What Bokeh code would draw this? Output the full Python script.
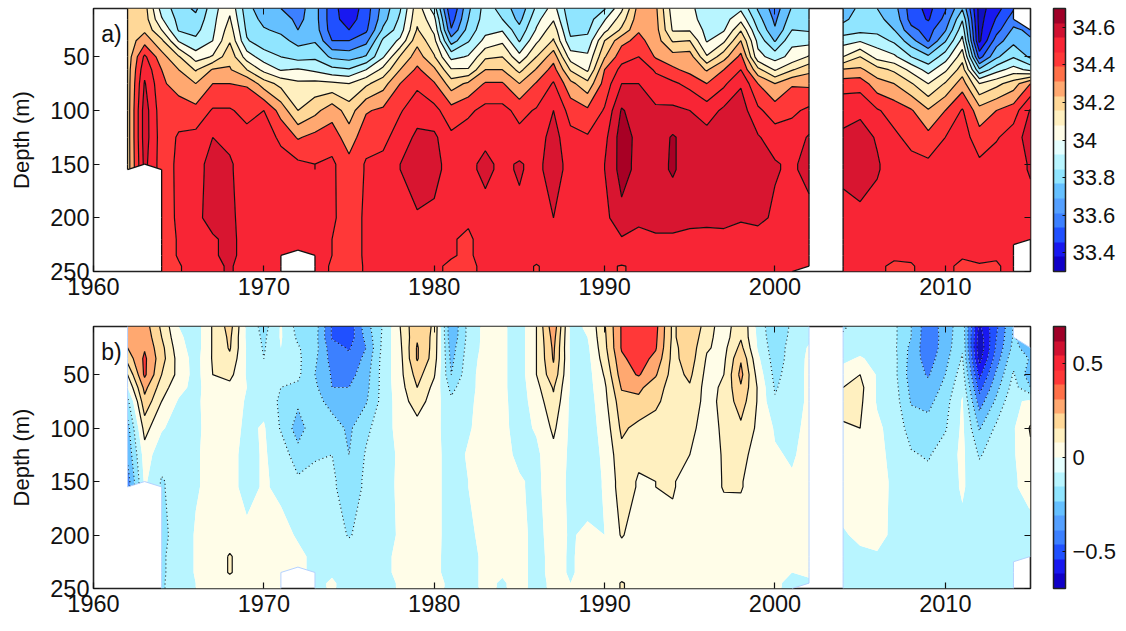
import numpy as np
from bokeh.embed import file_html
from bokeh.layouts import column
from bokeh.models import ColorBar, FixedTicker, Label, LinearAxis, LinearColorMapper, Range1d
from bokeh.plotting import figure
from bokeh.resources import INLINE

nan = float("nan")
years = list(range(1962, 2016))
read_depths = [5, 15, 25, 35, 50, 62, 75, 100, 125, 150, 200, 235, 250]
# salinity: hundredths above 33, one list per year, one value per read depth
sal_1960s = [
    [122,120,122,124,124,125,125,125,125,125,nan,nan,nan],
    [124,125,128,136,152,157,161,165,165,163,nan,nan,nan],
    [96,101,110,122,134,140,142,144,145,145,144,144,144],
    [85,87,89,99,121,130,135,146,151,152,152,151,149],
    [78,83,87,92,105,119,130,143,153,157,158,156,155],
    [96,97,98,100,111,131,140,151,160,163,163,159,158],
    [108,111,115,119,127,131,140,151,158,161,161,162,161],
    [84,86,88,91,105,120,139,147,153,156,158,157,156],
]
sal_1970s = [
    [73,77,81,84,95,107,125,150,155,156,158,157,156],
    [70,74,78,83,90,99,117,136,148,154,157,157,155],
    [67,68,70,77,86,101,112,120,139,152,156,156,nan],
    [74,74,75,79,88,98,113,127,143,150,155,154,154],
    [54,54,55,60,78,93,112,136,145,152,151,150,149],
    [43,45,50,60,76,91,110,125,135,143,147,147,146],
    [55,56,58,67,81,100,118,139,146,151,151,151,151],
    [74,76,82,92,99,113,126,142,147,153,155,155,155],
    [89,92,95,102,121,130,140,149,155,160,156,154,154],
    [116,118,121,127,135,142,148,156,162,165,159,157,156],
]
sal_1980s = [
    [95,103,108,113,121,132,141,153,162,163,158,156,152],
    [50,55,61,75,97,111,125,144,152,156,154,151,148],
    [78,80,84,89,101,111,132,148,155,158,152,148,145],
    [94,95,97,103,118,130,141,153,158,162,157,155,155],
    [87,90,99,108,120,130,141,153,157,158,156,155,154],
    [73,77,83,89,103,117,130,147,153,161,158,157,155],
    [92,97,101,108,120,131,141,151,155,157,157,155,149],
    [104,109,116,121,136,144,151,160,164,165,160,156,155],
    [82,84,87,92,105,119,133,146,153,156,156,155,155],
    [84,85,88,93,102,108,123,142,151,155,157,157,155],
]
sal_1990s = [
    [89,99,107,120,129,140,144,151,157,160,157,154,153],
    [108,115,122,137,146,153,160,171,175,174,167,159,149],
    [134,136,139,143,150,155,160,165,167,167,163,156,153],
    [132,133,134,135,139,149,153,162,165,167,165,158,155],
    [105,107,109,119,134,142,152,162,171,171,165,158,154],
    [103,104,109,120,135,137,147,160,166,166,164,156,155],
    [93,95,97,99,111,129,140,155,164,167,164,155,154],
    [93,96,99,108,126,140,148,162,168,168,164,156,155],
    [98,107,119,130,143,150,159,165,168,168,161,156,155],
    [79,84,90,97,103,123,140,152,161,163,163,155,154],
]
sal_2000s = [
    [65,68,71,79,96,109,130,145,155,161,158,156,155],
    [81,85,90,98,103,119,139,148,155,158,156,155,154],
    [84,86,89,96,111,127,138,152,161,164,156,154,152],
    [nan,nan,nan,nan,nan,nan,nan,nan,nan,nan,nan,nan,nan],
    [75,78,84,96,110,131,145,158,161,162,157,155,154],
    [82,84,87,99,120,132,146,158,164,166,157,155,154],
    [80,82,87,95,106,124,134,151,159,161,156,151,151],
    [74,77,80,88,102,118,130,146,152,155,156,151,149],
    [55,56,63,74,90,107,121,141,147,153,156,152,149],
    [47,49,56,59,82,96,110,131,143,152,157,156,154],
]
sal_2010s = [
    [59,63,69,79,95,108,121,140,150,154,157,154,152],
    [79,89,96,103,116,125,135,151,155,157,156,151,148],
    [36,36,37,38,56,82,110,134,144,152,157,153,149],
    [46,51,56,65,78,96,117,140,149,155,156,151,149],
    [59,65,72,77,89,104,125,145,155,156,155,154,153],
    [nan,nan,68,71,78,97,140,161,165,161,156,155,nan],
]
# anomaly: hundredths
ano_1960s = [
    [35,33,30,24,10,0,-13,-24,-28,-35,nan,nan,nan],
    [35,37,39,42,42,33,27,14,5,2,nan,nan,nan],
    [18,20,23,24,20,15,10,1,-6,-11,-12,-11,-11],
    [0,2,4,6,7,3,-1,-4,-5,-6,-7,-7,-6],
    [-5,-5,-5,-4,-4,-3,-2,-2,-1,-1,1,1,0],
    [11,11,11,11,10,6,5,4,3,3,3,3,3],
    [24,22,21,18,13,7,5,4,3,3,4,11,5],
    [-2,-2,-1,-1,-1,0,-1,-2,-3,-3,2,4,4],
]
ano_1970s = [
    [-14,-12,-11,-10,-6,-5,-3,1,1,1,4,4,3],
    [1,1,0,-2,-7,-10,-12,-11,-4,-2,3,3,3],
    [-14,-12,-9,-8,-8,-12,-18,-25,-16,-8,-1,2,nan],
    [-15,-16,-16,-18,-20,-18,-16,-13,-11,-7,-3,-2,-2],
    [-41,-41,-36,-34,-31,-30,-24,-15,-10,-8,-4,-1,1],
    [-47,-46,-41,-38,-34,-30,-27,-22,-20,-16,-11,-4,-3],
    [-24,-27,-30,-27,-24,-23,-21,-12,-9,-8,-5,-3,-3],
    [-9,-8,-7,-6,-6,-6,-6,-5,-5,-4,-3,-3,-3],
    [10,9,8,7,7,6,5,4,2,2,1,3,1],
    [29,29,31,31,24,20,15,6,5,4,2,1,1],
]
ano_1980s = [
    [18,17,16,15,11,7,5,3,3,3,3,2,3],
    [-29,-28,-25,-23,-20,-13,-8,-5,-4,-4,-4,-3,-2],
    [-7,-7,-6,-5,-4,-3,-2,-1,1,0,-2,-3,-3],
    [3,3,3,4,5,4,4,4,4,3,3,2,2],
    [2,2,2,2,2,2,2,2,3,3,2,1,-1],
    [-5,-5,-5,-5,-5,-5,-4,-3,-2,1,3,3,3],
    [10,10,10,10,10,7,4,1,-2,-2,-3,-3,-3],
    [37,34,32,31,27,21,18,12,7,5,4,3,2],
    [-2,-2,-2,-1,-1,-1,-2,-2,-2,-2,-1,-1,0],
    [1,0,-2,-3,-4,-4,-5,-5,-5,-5,2,3,3],
]
ano_1990s = [
    [19,18,17,15,11,8,7,4,2,1,0,1,1],
    [41,41,41,38,35,31,26,22,17,15,11,4,11],
    [48,49,47,45,41,32,28,17,12,9,4,3,5],
    [43,42,41,37,31,25,22,16,12,10,4,3,3],
    [18,18,17,17,16,15,15,14,12,11,7,3,3],
    [28,28,26,25,22,19,17,13,10,5,3,3,3],
    [16,13,11,9,7,6,6,5,5,3,3,2,2],
    [3,5,7,8,10,12,13,12,11,11,2,2,2],
    [19,19,23,29,33,29,25,18,13,11,3,3,3],
    [-3,-2,-1,2,6,9,9,8,6,3,2,2,2],
]
ano_2000s = [
    [-19,-18,-16,-15,-13,-11,-9,-1,1,2,3,2,2],
    [-8,-7,-6,-6,-5,-5,-5,-3,-1,1,1,0,-3],
    [-4,-2,1,2,2,2,2,3,3,3,3,2,-2],
    [nan,nan,nan,nan,nan,nan,nan,nan,nan,nan,nan,nan,nan],
    [-11,-9,-5,-2,4,10,13,9,5,5,-1,-3,-3],
    [-7,-5,-3,1,10,13,12,10,5,4,2,-2,-3],
    [-5,-5,-4,-3,-1,-1,-1,2,3,4,3,-1,-2],
    [-8,-8,-8,-7,-7,-6,-5,-4,-3,-2,-2,-2,-2],
    [-20,-20,-23,-24,-25,-23,-21,-14,-9,-6,-3,-3,-3],
    [-37,-38,-37,-35,-31,-27,-23,-16,-11,-7,-3,-3,-3],
]
ano_2010s = [
    [-25,-25,-25,-23,-20,-17,-14,-11,-5,-4,-2,-2,-2],
    [-14,-13,-11,-9,-5,-2,1,2,2,1,-2,-2,-2],
    [-62,-66,-68,-64,-53,-44,-35,-21,-11,-5,-3,-2,-2],
    [-42,-40,-38,-35,-28,-23,-18,-8,-5,-4,-3,-2,-2],
    [-19,-19,-17,-13,-9,-6,-2,-1,-1,-1,-2,-2,-2],
    [nan,nan,-25,-21,-26,-20,2,11,8,3,-3,-2,nan],
]
# depths of the gridded field, and which read row each one takes its values from
depths = [5, 15, 25, 35, 50, 62, 75, 100, 125, 150, 155, 200, 220, 225, 230, 235, 245, 250]
row_of_depth = [0, 1, 2, 3, 4, 5, 6, 7, 8, 9, 9, 10, 11, 11, 11, 11, 12, 12]
# data are missing below / above these depths in these years
missing_below = {1962: 155, 1963: 150, 1972: 230, 2002: 245, 2015: 220}
missing_above = {2015: 25}
missing_years = [2003]

sal_levels = [33.3, 33.4, 33.5, 33.6, 33.7, 33.8, 33.9, 34.0, 34.1, 34.2, 34.3, 34.4, 34.5, 34.6, 34.7, 34.8]
sal_colors = ["#1010C0", "#1818F0", "#2050FF", "#3C80FF", "#65C0FF", "#90E5FF", "#B8F5FF", "#FFFDE8",
              "#FFF0C0", "#FFD898", "#FFA870", "#FF3838", "#F82535", "#D81530", "#A80025"]
ano_levels = [-0.7, -0.6, -0.5, -0.4, -0.3, -0.2, -0.1, 0.0, 0.1, 0.2, 0.3, 0.4, 0.5, 0.6, 0.7]
ano_colors = ["#1010C0", "#1818F0", "#2050FF", "#3C80FF", "#65C0FF", "#90E5FF", "#B8F5FF", "#FFFDE8",
              "#FFF0C0", "#FFD898", "#FFA870", "#FF3838", "#F82535", "#D81530"]
bar_palette = ["#1000C8", "#1818F0", "#2050FF", "#3C80FF", "#55A0FF", "#65C0FF", "#90E5FF", "#B8F5FF", "#E5FFFF",
               "#FFFDE8", "#FFF0C0", "#FFD898", "#FFA870", "#FF7048", "#FF3838", "#F82535", "#D01030", "#A00028"]
year_ticks = [1960, 1970, 1980, 1990, 2000, 2010]
depth_ticks = [50, 100, 150, 200, 250]
sal_bar_ticks = [33.4, 33.6, 33.8, 34, 34.2, 34.4, 34.6]
sal_bar_labels = {33.4: "33.4", 33.6: "33.6", 33.8: "33.8", 34: "34", 34.2: "34.2", 34.4: "34.4", 34.6: "34.6"}
ano_bar_ticks = [-0.5, 0, 0.5]
ano_bar_labels = {-0.5: "\u22120.5", 0: "0", 0.5: "0.5"}

FONT = "Liberation Sans"
X = np.array(years, float)
Y = np.array(depths, float)


def field(columns, offset):
    read = np.array(columns, float).T
    z = (read[row_of_depth] + offset) / 100.0
    for yr, lim in missing_below.items():
        z[Y > lim, years.index(yr)] = np.nan
    for yr, lim in missing_above.items():
        z[Y < lim, years.index(yr)] = np.nan
    for yr in missing_years:
        z[:, years.index(yr)] = np.nan
    return z


def data_edges(z):
    """Boundary of the part of the grid that has data (frame sides left out)."""
    ok = ~np.isnan(z)
    nr, nc = z.shape
    count = np.zeros((nr + 1, nc + 1), int)
    count[1:nr, 1:nc] = ok[:-1, :-1].astype(int) + ok[1:, :-1] + ok[:-1, 1:] + ok[1:, 1:]
    xs, ys = [], []
    for j in range(nr - 1):
        for i in range(nc - 1):
            if ok[j, i] and ok[j + 1, i] and (count[j + 1, i] >= 3) != (count[j + 1, i + 1] >= 3):
                xs.append([X[i], X[i]]); ys.append([Y[j], Y[j + 1]])
    for j in range(1, nr - 1):
        for i in range(nc - 1):
            if ok[j, i] and ok[j, i + 1] and (count[j, i + 1] >= 3) != (count[j + 1, i + 1] >= 3):
                xs.append([X[i], X[i + 1]]); ys.append([Y[j], Y[j]])
    for j in range(nr - 1):
        for i in range(nc - 1):
            if count[j + 1, i + 1] == 3:
                corners = [(j, i), (j, i + 1), (j + 1, i + 1), (j + 1, i)]
                k = [c for c in range(4) if not ok[corners[c]]][0]
                a, b = corners[(k + 1) % 4], corners[(k + 3) % 4]
                xs.append([X[a[1]], X[b[1]]]); ys.append([Y[a[0]], Y[b[0]]])
    return xs, ys


def panel(z, levels, colors, line_sets, edge_color, edge_width, tag, height, top, bottom, low, high, bar_ticks, bar_labels):
    p = figure(width=1122, height=height, output_backend="svg", toolbar_location=None,
               x_range=Range1d(1960, 2015), y_range=Range1d(250, 5),
               min_border_left=93, min_border_right=92, min_border_top=top, min_border_bottom=bottom)
    p.grid.visible = False
    p.background_fill_color = "white"
    p.outline_line_color = "#222222"
    p.outline_line_width = 1.6
    p.contour(X, Y, z, levels, fill_color=colors)
    for lv, dash, width in line_sets:
        p.contour(X, Y, z, lv, line_color="#111111", line_dash=dash, line_width=width)
    ex, ey = data_edges(z)
    p.multi_line(ex, ey, line_color=edge_color, line_width=edge_width)

    xa, ya = p.xaxis[0], p.yaxis[0]
    xa.ticker = FixedTicker(ticks=year_ticks)
    ya.ticker = FixedTicker(ticks=depth_ticks)
    ya.axis_label = "Depth (m)"
    ya.axis_label_text_font = FONT
    ya.axis_label_text_font_style = "normal"
    ya.axis_label_text_font_size = "22px"
    ya.axis_label_text_color = "#111111"
    ya.axis_label_standoff = 13
    for ax in (xa, ya):
        ax.major_label_text_font = FONT
        ax.major_label_text_font_size = "23.5px"
        ax.major_label_text_color = "#111111"
        ax.major_tick_in = 6
        ax.major_tick_out = 0
        ax.minor_tick_line_color = None
        ax.major_tick_line_color = "#111111"
        ax.major_tick_line_width = 1.2
        ax.axis_line_color = None
    xa.major_label_standoff = 6
    ya.major_label_standoff = 4
    for ticks, side in ((year_ticks, "above"), (depth_ticks, "right")):
        extra = LinearAxis(ticker=FixedTicker(ticks=ticks), major_label_text_font_size="1px",
                           major_label_text_color=None, major_label_standoff=0,
                           major_tick_in=6, major_tick_out=0, minor_tick_line_color=None,
                           axis_line_color=None, major_tick_line_color="#111111")
        p.add_layout(extra, side)

    p.add_layout(Label(x=1960.45, y=29, text=tag, text_font=FONT, text_font_size="23px",
                       text_color="#111111", text_baseline="alphabetic"))
    mapper = LinearColorMapper(palette=bar_palette, low=low, high=high)
    bar = ColorBar(color_mapper=mapper, ticker=FixedTicker(ticks=bar_ticks), major_label_overrides=bar_labels,
                   width=12, height=height - top - bottom, location=(23, 0), padding=0, margin=0,
                   major_tick_in=3, major_tick_line_color="#111111", minor_tick_line_color=None,
                   bar_line_color="#222222", bar_line_width=1.5, label_standoff=7,
                   major_label_text_font=FONT, major_label_text_font_size="22px",
                   major_label_text_color="#111111")
    p.add_layout(bar, "right")
    return p


sal = field(sal_1960s + sal_1970s + sal_1980s + sal_1990s + sal_2000s + sal_2010s, 3300)
ano = field(ano_1960s + ano_1970s + ano_1980s + ano_1990s + ano_2000s + ano_2010s, 0)

p1 = panel(sal, sal_levels, sal_colors, [(sal_levels[1:-1], "solid", 1.2)], "#111111", 1.3, "a)",
           317, 8, 46, 33.3, 34.7, sal_bar_ticks, sal_bar_labels)
p2 = panel(ano, ano_levels, ano_colors,
           [(ano_levels[8:-1], "solid", 1.2), (ano_levels[1:7], "1 3", 1.1)], "#B4D2FF", 1.0, "b)",
           300, 9, 29, -0.7, 0.7, ano_bar_ticks, ano_bar_labels)

open("out.html", "w").write(file_html(column(p1, p2, spacing=0), INLINE))
